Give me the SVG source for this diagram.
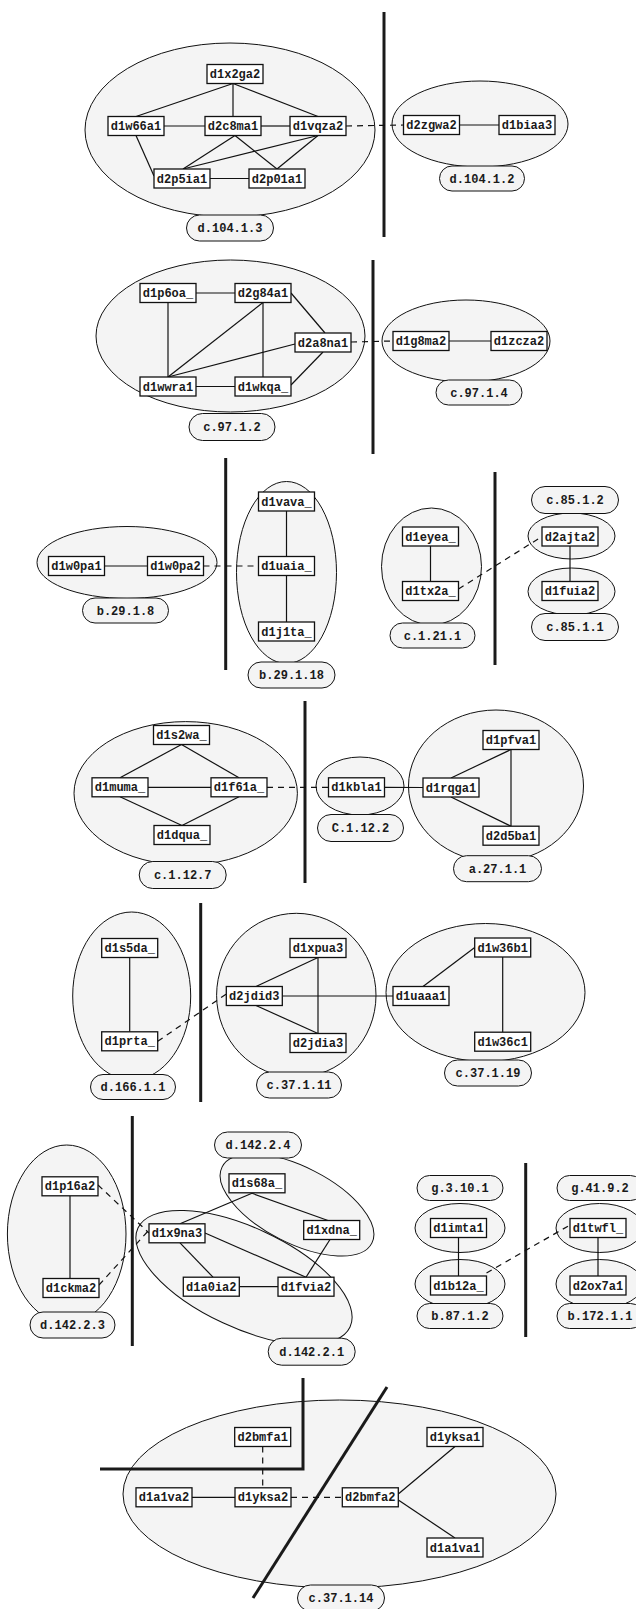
<svg xmlns="http://www.w3.org/2000/svg" width="636" height="1609" viewBox="0 0 636 1609">
<style>
.cl{fill:#000;fill-opacity:0.045;stroke:#111;stroke-width:1}
.lb{fill:#f4f4f4;stroke:#111;stroke-width:1}
.bx{fill:#fff;stroke:#111;stroke-width:1.3}
.t{font-family:"Liberation Mono",monospace;font-size:12px;font-weight:bold;fill:#1a1a1a;text-anchor:middle}
.e{stroke:#111;stroke-width:1.2;fill:none}
.d{stroke:#111;stroke-width:1.2;fill:none;stroke-dasharray:6 5}
.sep{stroke:#1a1a1a;stroke-width:3;fill:none}
</style>
<rect width="636" height="1609" fill="#fff"/>

<g id="clusters">
<g id="cl-d.104.1.3"><ellipse class="cl" cx="230" cy="130" rx="145" ry="87"/><rect class="lb" x="186.5" y="215" width="87" height="26" rx="13"/><text class="t" x="230" y="232">d.104.1.3</text></g>
<g id="cl-d.104.1.2"><ellipse class="cl" cx="480" cy="124" rx="88" ry="43"/><rect class="lb" x="439.5" y="166" width="85" height="25" rx="12.5"/><text class="t" x="482" y="182.5">d.104.1.2</text></g>
<g id="cl-c.97.1.2"><ellipse class="cl" cx="230.5" cy="336" rx="134.5" ry="76"/><rect class="lb" x="189" y="413.5" width="86" height="27" rx="13.5"/><text class="t" x="232" y="431">c.97.1.2</text></g>
<g id="cl-c.97.1.4"><ellipse class="cl" cx="466" cy="341" rx="84" ry="41"/><rect class="lb" x="436" y="380" width="86" height="25" rx="12.5"/><text class="t" x="479" y="396.5">c.97.1.4</text></g>
<g id="cl-b.29.1.8"><ellipse class="cl" cx="127" cy="562.5" rx="90" ry="36"/><rect class="lb" x="82.5" y="598" width="86" height="25" rx="12.5"/><text class="t" x="125.5" y="614.5">b.29.1.8</text></g>
<g id="cl-b.29.1.18"><ellipse class="cl" cx="286.5" cy="572.5" rx="50" ry="91"/><rect class="lb" x="248" y="662" width="87" height="26" rx="13"/><text class="t" x="291.5" y="679">b.29.1.18</text></g>
<g id="cl-c.1.21.1"><ellipse class="cl" cx="431.5" cy="566.5" rx="50" ry="58.5"/><rect class="lb" x="390" y="623" width="85" height="25" rx="12.5"/><text class="t" x="432.5" y="639.5">c.1.21.1</text></g>
<g id="cl-c.85.1.2"><ellipse class="cl" cx="571.5" cy="536" rx="43.5" ry="23"/><rect class="lb" x="531.5" y="486.5" width="87" height="27" rx="13.5"/><text class="t" x="575" y="504">c.85.1.2</text></g>
<g id="cl-c.85.1.1"><ellipse class="cl" cx="571.5" cy="591.5" rx="43.5" ry="23.5"/><rect class="lb" x="531.5" y="613.5" width="87" height="27" rx="13.5"/><text class="t" x="575" y="631">c.85.1.1</text></g>
<g id="cl-c.1.12.7"><ellipse class="cl" cx="185.7" cy="793.3" rx="111.7" ry="71.7"/><rect class="lb" x="139.2" y="861.5" width="87" height="27" rx="13.5"/><text class="t" x="182.7" y="879">c.1.12.7</text></g>
<g id="cl-C.1.12.2"><ellipse class="cl" cx="360" cy="786" rx="44" ry="29"/><rect class="lb" x="317.5" y="814.5" width="86" height="27" rx="13.5"/><text class="t" x="360.5" y="832">C.1.12.2</text></g>
<g id="cl-a.27.1.1"><ellipse class="cl" cx="496" cy="786" rx="87.5" ry="76"/><rect class="lb" x="453.5" y="855.7" width="88" height="26" rx="13"/><text class="t" x="497.5" y="872.7">a.27.1.1</text></g>
<g id="cl-d.166.1.1"><ellipse class="cl" cx="131.7" cy="996" rx="59" ry="84"/><rect class="lb" x="90.5" y="1074.5" width="85" height="25" rx="12.5"/><text class="t" x="133" y="1091">d.166.1.1</text></g>
<g id="cl-c.37.1.11"><ellipse class="cl" cx="296.3" cy="995.3" rx="79.7" ry="82"/><rect class="lb" x="256.5" y="1072" width="85" height="26" rx="13"/><text class="t" x="299" y="1089">c.37.1.11</text></g>
<g id="cl-c.37.1.19"><ellipse class="cl" cx="485.5" cy="992.5" rx="99.5" ry="69"/><rect class="lb" x="444.5" y="1060" width="87" height="26" rx="13"/><text class="t" x="488" y="1077">c.37.1.19</text></g>
<g id="cl-d.142.2.3"><ellipse class="cl" cx="66.7" cy="1234" rx="59.3" ry="89"/><rect class="lb" x="30" y="1312" width="85" height="26" rx="13"/><text class="t" x="72.5" y="1329">d.142.2.3</text></g>
<g id="cl-d.142.2.1"><ellipse class="cl" cx="0" cy="0" rx="117" ry="50" transform="translate(244,1277.5) rotate(25)"/><rect class="lb" x="268.2" y="1338.2" width="87" height="27" rx="13.5"/><text class="t" x="311.7" y="1355.7">d.142.2.1</text></g>
<g id="cl-d.142.2.4"><ellipse class="cl" cx="0" cy="0" rx="84" ry="38" transform="translate(297,1205) rotate(27)"/><rect class="lb" x="214.5" y="1132" width="87" height="26" rx="13"/><text class="t" x="258" y="1149">d.142.2.4</text></g>
<g id="cl-g.3.10.1"><ellipse class="cl" cx="460" cy="1228" rx="45" ry="24.5"/><rect class="lb" x="417" y="1175.5" width="86" height="25" rx="12.5"/><text class="t" x="460" y="1192">g.3.10.1</text></g>
<g id="cl-b.87.1.2"><ellipse class="cl" cx="460" cy="1284" rx="45" ry="24.5"/><rect class="lb" x="417" y="1303.5" width="86" height="25" rx="12.5"/><text class="t" x="460" y="1320">b.87.1.2</text></g>
<g id="cl-g.41.9.2"><ellipse class="cl" cx="599.5" cy="1228" rx="43.5" ry="24.5"/><rect class="lb" x="557" y="1175.5" width="86" height="25" rx="12.5"/><text class="t" x="600" y="1192">g.41.9.2</text></g>
<g id="cl-b.172.1.1"><ellipse class="cl" cx="599.5" cy="1284" rx="43.5" ry="24.5"/><rect class="lb" x="557" y="1303.5" width="86" height="25" rx="12.5"/><text class="t" x="600" y="1320">b.172.1.1</text></g>
<g id="cl-c.37.1.14"><ellipse class="cl" cx="339.5" cy="1494" rx="216.5" ry="94"/><rect class="lb" x="297.5" y="1585" width="87" height="26" rx="13"/><text class="t" x="341" y="1602">c.37.1.14</text></g>
</g>

<g id="separators">
<line class="sep" x1="384" y1="12" x2="384" y2="237"/>
<line class="sep" x1="373" y1="260" x2="373" y2="454"/>
<line class="sep" x1="225.7" y1="458" x2="225.7" y2="670"/>
<line class="sep" x1="495" y1="472" x2="495" y2="665"/>
<line class="sep" x1="305" y1="701" x2="305" y2="883"/>
<line class="sep" x1="200.7" y1="903" x2="200.7" y2="1102"/>
<line class="sep" x1="132.3" y1="1116" x2="132.3" y2="1346"/>
<line class="sep" x1="525.7" y1="1163" x2="525.7" y2="1337"/>
<polyline class="sep" points="100,1469 303,1469 303,1378"/>
<line class="sep" x1="387" y1="1387" x2="253" y2="1598"/>
</g>

<g id="connectors">
<line class="e" x1="233" y1="83.5" x2="136" y2="116.5"/>
<line class="e" x1="233" y1="83.5" x2="233" y2="116.5"/>
<line class="e" x1="233" y1="83.5" x2="318" y2="116.5"/>
<line class="e" x1="164" y1="126" x2="205" y2="126"/>
<line class="e" x1="261" y1="126" x2="290" y2="126"/>
<line class="e" x1="136" y1="135.5" x2="154" y2="176"/>
<line class="e" x1="235" y1="135.5" x2="183" y2="169"/>
<line class="e" x1="235" y1="135.5" x2="277" y2="169"/>
<line class="e" x1="318" y1="135.5" x2="183" y2="169"/>
<line class="e" x1="318" y1="135.5" x2="277" y2="169"/>
<line class="e" x1="210" y1="178.5" x2="249" y2="178.5"/>
<line class="d" x1="346" y1="126" x2="403.5" y2="125"/>
<line class="e" x1="459.5" y1="125" x2="499" y2="125"/>

<line class="e" x1="196" y1="293" x2="235" y2="293"/>
<line class="e" x1="168" y1="302.5" x2="168" y2="377"/>
<line class="e" x1="291" y1="293" x2="325" y2="333"/>
<line class="e" x1="263" y1="302.5" x2="168" y2="377"/>
<line class="e" x1="263" y1="302.5" x2="263" y2="377"/>
<line class="e" x1="295" y1="344" x2="168" y2="377"/>
<line class="e" x1="323" y1="352" x2="291" y2="385"/>
<line class="e" x1="196" y1="386.5" x2="235" y2="386.5"/>
<line class="d" x1="351" y1="342" x2="393" y2="341"/>
<line class="e" x1="449" y1="341" x2="491" y2="341"/>

<line class="e" x1="104.5" y1="566" x2="147.5" y2="566"/>
<line class="d" x1="203.5" y1="566" x2="258.5" y2="566"/>
<line class="e" x1="286.5" y1="511" x2="286.5" y2="556.5"/>
<line class="e" x1="286.5" y1="575.5" x2="286.5" y2="622"/>
<line class="e" x1="430.5" y1="546" x2="430.5" y2="581.5"/>
<line class="d" x1="458.5" y1="589" x2="542" y2="536.5"/>
<line class="e" x1="570" y1="546" x2="570" y2="581.5"/>

<line class="e" x1="181.5" y1="744.5" x2="120" y2="777.8"/>
<line class="e" x1="181.5" y1="744.5" x2="239" y2="777.8"/>
<line class="e" x1="148" y1="787.3" x2="211" y2="787.3"/>
<line class="e" x1="120" y1="796.8" x2="182" y2="825.5"/>
<line class="e" x1="239" y1="796.8" x2="182" y2="825.5"/>
<line class="d" x1="267" y1="787.3" x2="328.5" y2="787.3"/>
<line class="e" x1="384.5" y1="787.3" x2="423" y2="787.5"/>
<line class="e" x1="451" y1="778" x2="511" y2="749.5"/>
<line class="e" x1="451" y1="797" x2="511" y2="826.2"/>
<line class="e" x1="511" y1="749.5" x2="511" y2="826.2"/>

<line class="e" x1="129.7" y1="957.5" x2="129.7" y2="1031.8"/>
<line class="d" x1="157.7" y1="1041.3" x2="226.3" y2="994"/>
<line class="e" x1="256" y1="986.5" x2="318" y2="957.5"/>
<line class="e" x1="256" y1="1005.5" x2="318" y2="1033.5"/>
<line class="e" x1="318" y1="957.5" x2="318" y2="1033.5"/>
<line class="e" x1="282.3" y1="996" x2="393" y2="996"/>
<line class="e" x1="423" y1="986.5" x2="474.7" y2="947.5"/>
<line class="e" x1="502.7" y1="957" x2="502.7" y2="1032.2"/>

<line class="e" x1="70" y1="1195.8" x2="70" y2="1278.5"/>
<line class="d" x1="98" y1="1185" x2="149" y2="1233"/>
<line class="d" x1="99" y1="1285" x2="149" y2="1230"/>
<line class="e" x1="252" y1="1193.3" x2="180" y2="1223.8"/>
<line class="e" x1="252" y1="1193.3" x2="328" y2="1220.5"/>
<line class="e" x1="330" y1="1239.5" x2="306" y2="1277.2"/>
<line class="e" x1="205" y1="1233" x2="306" y2="1277.2"/>
<line class="e" x1="180" y1="1242.8" x2="213" y2="1277.2"/>
<line class="e" x1="239.3" y1="1286.7" x2="278" y2="1286.7"/>
<line class="e" x1="458.5" y1="1237.5" x2="458.5" y2="1276"/>
<line class="d" x1="486.5" y1="1273" x2="570" y2="1225"/>
<line class="e" x1="598" y1="1237.5" x2="598" y2="1276"/>

<line class="d" x1="262.7" y1="1446.5" x2="262.7" y2="1487.8"/>
<line class="e" x1="192" y1="1497.3" x2="235" y2="1497.3"/>
<line class="d" x1="291" y1="1497.3" x2="342.3" y2="1497.3"/>
<line class="e" x1="398.3" y1="1494" x2="455" y2="1446.5"/>
<line class="e" x1="398.3" y1="1500" x2="455" y2="1538"/>
</g>

<g id="nodes">
<g id="d1x2ga2"><rect class="bx" x="207" y="64.5" width="56" height="19"/><text class="t" x="235" y="78">d1x2ga2</text></g>
<g id="d1w66a1"><rect class="bx" x="108" y="116.5" width="56" height="19"/><text class="t" x="136" y="130">d1w66a1</text></g>
<g id="d2c8ma1"><rect class="bx" x="205" y="116.5" width="56" height="19"/><text class="t" x="233" y="130">d2c8ma1</text></g>
<g id="d1vqza2"><rect class="bx" x="290" y="116.5" width="56" height="19"/><text class="t" x="318" y="130">d1vqza2</text></g>
<g id="d2p5ia1"><rect class="bx" x="154" y="169" width="56" height="19"/><text class="t" x="182" y="182.5">d2p5ia1</text></g>
<g id="d2p01a1"><rect class="bx" x="249" y="169" width="56" height="19"/><text class="t" x="277" y="182.5">d2p01a1</text></g>
<g id="d2zgwa2"><rect class="bx" x="403.5" y="115.5" width="56" height="19"/><text class="t" x="431.5" y="129">d2zgwa2</text></g>
<g id="d1biaa3"><rect class="bx" x="499" y="115.5" width="56" height="19"/><text class="t" x="527" y="129">d1biaa3</text></g>

<g id="d1p6oa_"><rect class="bx" x="140" y="283.5" width="56" height="19"/><text class="t" x="168" y="297">d1p6oa_</text></g>
<g id="d2g84a1"><rect class="bx" x="235" y="283.5" width="56" height="19"/><text class="t" x="263" y="297">d2g84a1</text></g>
<g id="d2a8na1"><rect class="bx" x="295" y="333" width="56" height="19"/><text class="t" x="323" y="346.5">d2a8na1</text></g>
<g id="d1wwra1"><rect class="bx" x="140" y="377" width="56" height="19"/><text class="t" x="168" y="390.5">d1wwra1</text></g>
<g id="d1wkqa_"><rect class="bx" x="235" y="377" width="56" height="19"/><text class="t" x="263" y="390.5">d1wkqa_</text></g>
<g id="d1g8ma2"><rect class="bx" x="393" y="331.5" width="56" height="19"/><text class="t" x="421" y="345">d1g8ma2</text></g>
<g id="d1zcza2"><rect class="bx" x="491" y="331.5" width="56" height="19"/><text class="t" x="519" y="345">d1zcza2</text></g>

<g id="d1w0pa1"><rect class="bx" x="48.5" y="556.5" width="56" height="19"/><text class="t" x="76.5" y="570">d1w0pa1</text></g>
<g id="d1w0pa2"><rect class="bx" x="147.5" y="556.5" width="56" height="19"/><text class="t" x="175.5" y="570">d1w0pa2</text></g>
<g id="d1vava_"><rect class="bx" x="258.5" y="492" width="56" height="19"/><text class="t" x="286.5" y="505.5">d1vava_</text></g>
<g id="d1uaia_"><rect class="bx" x="258.5" y="556.5" width="56" height="19"/><text class="t" x="286.5" y="570">d1uaia_</text></g>
<g id="d1j1ta_"><rect class="bx" x="258.5" y="622" width="56" height="19"/><text class="t" x="286.5" y="635.5">d1j1ta_</text></g>
<g id="d1eyea_"><rect class="bx" x="402.5" y="527" width="56" height="19"/><text class="t" x="430.5" y="540.5">d1eyea_</text></g>
<g id="d1tx2a_"><rect class="bx" x="402.5" y="581.5" width="56" height="19"/><text class="t" x="430.5" y="595">d1tx2a_</text></g>
<g id="d2ajta2"><rect class="bx" x="542" y="527" width="56" height="19"/><text class="t" x="570" y="540.5">d2ajta2</text></g>
<g id="d1fuia2"><rect class="bx" x="542" y="581.5" width="56" height="19"/><text class="t" x="570" y="595">d1fuia2</text></g>

<g id="d1s2wa_"><rect class="bx" x="153.5" y="725.5" width="56" height="19"/><text class="t" x="181.5" y="739">d1s2wa_</text></g>
<g id="d1muma_"><rect class="bx" x="92" y="777.8" width="56" height="19"/><text class="t" x="120" y="791.3">d1muma_</text></g>
<g id="d1f61a_"><rect class="bx" x="211" y="777.8" width="56" height="19"/><text class="t" x="239" y="791.3">d1f61a_</text></g>
<g id="d1dqua_"><rect class="bx" x="154" y="825.5" width="56" height="19"/><text class="t" x="182" y="839">d1dqua_</text></g>
<g id="d1kbla1"><rect class="bx" x="328.5" y="777.8" width="56" height="19"/><text class="t" x="356.5" y="791.3">d1kbla1</text></g>
<g id="d1pfva1"><rect class="bx" x="483" y="730.5" width="56" height="19"/><text class="t" x="511" y="744">d1pfva1</text></g>
<g id="d1rqga1"><rect class="bx" x="423" y="778" width="56" height="19"/><text class="t" x="451" y="791.5">d1rqga1</text></g>
<g id="d2d5ba1"><rect class="bx" x="483" y="826.2" width="56" height="19"/><text class="t" x="511" y="839.7">d2d5ba1</text></g>

<g id="d1s5da_"><rect class="bx" x="101.7" y="938.5" width="56" height="19"/><text class="t" x="129.7" y="952">d1s5da_</text></g>
<g id="d1prta_"><rect class="bx" x="101.7" y="1031.8" width="56" height="19"/><text class="t" x="129.7" y="1045.3">d1prta_</text></g>
<g id="d1xpua3"><rect class="bx" x="290" y="938.5" width="56" height="19"/><text class="t" x="318" y="952">d1xpua3</text></g>
<g id="d2jdid3"><rect class="bx" x="226.3" y="986.5" width="56" height="19"/><text class="t" x="254.3" y="1000">d2jdid3</text></g>
<g id="d2jdia3"><rect class="bx" x="290" y="1033.5" width="56" height="19"/><text class="t" x="318" y="1047">d2jdia3</text></g>
<g id="d1uaaa1"><rect class="bx" x="393" y="986.5" width="56" height="19"/><text class="t" x="421" y="1000">d1uaaa1</text></g>
<g id="d1w36b1"><rect class="bx" x="474.7" y="938" width="56" height="19"/><text class="t" x="502.7" y="951.5">d1w36b1</text></g>
<g id="d1w36c1"><rect class="bx" x="474.7" y="1032.2" width="56" height="19"/><text class="t" x="502.7" y="1045.7">d1w36c1</text></g>

<g id="d1p16a2"><rect class="bx" x="42" y="1176.8" width="56" height="19"/><text class="t" x="70" y="1190.3">d1p16a2</text></g>
<g id="d1ckma2"><rect class="bx" x="43" y="1278.5" width="56" height="19"/><text class="t" x="71" y="1292">d1ckma2</text></g>
<g id="d1s68a_"><rect class="bx" x="229" y="1173.8" width="56" height="19"/><text class="t" x="257" y="1187.3">d1s68a_</text></g>
<g id="d1xdna_"><rect class="bx" x="303.7" y="1220.5" width="56" height="19"/><text class="t" x="331.7" y="1234">d1xdna_</text></g>
<g id="d1x9na3"><rect class="bx" x="149" y="1223.8" width="56" height="19"/><text class="t" x="177" y="1237.3">d1x9na3</text></g>
<g id="d1a0ia2"><rect class="bx" x="183.3" y="1277.2" width="56" height="19"/><text class="t" x="211.3" y="1290.7">d1a0ia2</text></g>
<g id="d1fvia2"><rect class="bx" x="278" y="1277.2" width="56" height="19"/><text class="t" x="306" y="1290.7">d1fvia2</text></g>
<g id="d1imta1"><rect class="bx" x="430.5" y="1218.5" width="56" height="19"/><text class="t" x="458.5" y="1232">d1imta1</text></g>
<g id="d1b12a_"><rect class="bx" x="430.5" y="1276" width="56" height="19"/><text class="t" x="458.5" y="1289.5">d1b12a_</text></g>
<g id="d1twfl_"><rect class="bx" x="570" y="1218.5" width="56" height="19"/><text class="t" x="598" y="1232">d1twfl_</text></g>
<g id="d2ox7a1"><rect class="bx" x="570" y="1276" width="56" height="19"/><text class="t" x="598" y="1289.5">d2ox7a1</text></g>

<g id="d2bmfa1"><rect class="bx" x="234.7" y="1427.5" width="56" height="19"/><text class="t" x="262.7" y="1441">d2bmfa1</text></g>
<g id="d1a1va2"><rect class="bx" x="136" y="1487.8" width="56" height="19"/><text class="t" x="164" y="1501.3">d1a1va2</text></g>
<g id="d1yksa2"><rect class="bx" x="235" y="1487.8" width="56" height="19"/><text class="t" x="263" y="1501.3">d1yksa2</text></g>
<g id="d2bmfa2"><rect class="bx" x="342.3" y="1487.8" width="56" height="19"/><text class="t" x="370.3" y="1501.3">d2bmfa2</text></g>
<g id="d1yksa1"><rect class="bx" x="427" y="1427.5" width="56" height="19"/><text class="t" x="455" y="1441">d1yksa1</text></g>
<g id="d1a1va1"><rect class="bx" x="427" y="1538" width="56" height="19"/><text class="t" x="455" y="1551.5">d1a1va1</text></g>
</g>
</svg>
